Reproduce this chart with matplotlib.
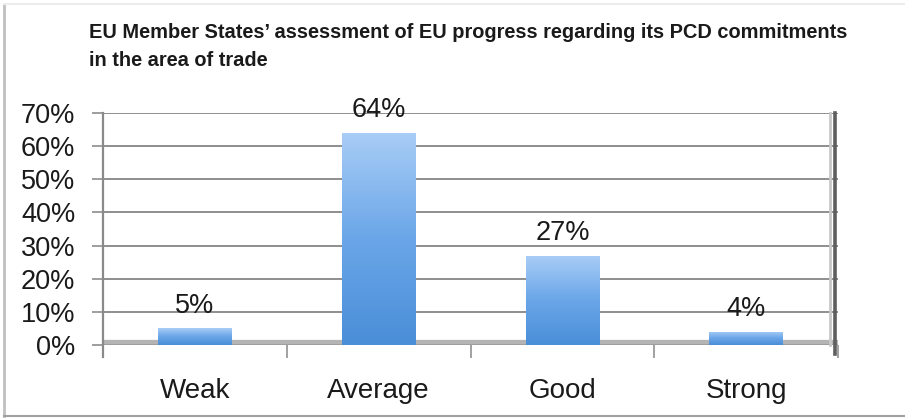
import numpy as np
import matplotlib
matplotlib.use("Agg")
import matplotlib.pyplot as plt
from matplotlib.lines import Line2D
from matplotlib.colors import LinearSegmentedColormap

categories = ["Weak", "Average", "Good", "Strong"]
values = [5, 64, 27, 4]
value_labels = ["5%", "64%", "27%", "4%"]
yticks = [0, 10, 20, 30, 40, 50, 60, 70]
ytick_labels = ["0%", "10%", "20%", "30%", "40%", "50%", "60%", "70%"]
title_lines = ["EU Member States\u2019 assessment of EU progress regarding its PCD commitments",
               "in the area of trade"]

W, H = 905, 418
fig = plt.figure(figsize=(W / 100, H / 100), dpi=100)
fig.patch.set_facecolor("white")

# plot area in pixels: x 103..838, y(0%)=345, y(70%)=113
x0, x1 = 103, 838
yb, yt = 345, 113
ax = fig.add_axes([x0 / W, (H - yb) / H, (x1 - x0) / W, (yb - yt) / H])
for s in ax.spines.values():
    s.set_visible(False)

# gridlines
for v in yticks[1:]:
    ax.axhline(v, color="#8e8e8e", lw=1.4, zorder=1)

# floor band
ax.axhline(0.6, color="#b4b4b4", lw=4.5, zorder=1.5, solid_capstyle="butt")
ax.axhline(0, color="#9a9a9a", lw=1.2, zorder=1.6)

# left axis line and right wall
ax.add_line(Line2D([0, 0], [1, -0.05], transform=ax.transAxes, color="#8a8a8a", lw=1.6, clip_on=False, zorder=3))
ax.add_line(Line2D([0.996, 0.996], [1, -0.04], transform=ax.transAxes, color="#5e5e5e", lw=2.6, clip_on=False, zorder=3))
ax.add_line(Line2D([0.989, 0.989], [1, 0.0], transform=ax.transAxes, color="#c8c8c8", lw=2.0, clip_on=False, zorder=2.9))

# bars with vertical gradient
cmap = LinearSegmentedColormap.from_list("barg", ["#4a8ed8", "#6aa6e8", "#a9cdf6"])
bars = ax.bar(range(len(categories)), values, width=0.40, color="none", edgecolor="none", zorder=2)
grad = np.linspace(0, 1, 256).reshape(-1, 1)
for b in bars:
    bx, by = b.get_x(), b.get_y()
    bw, bh = b.get_width(), b.get_height()
    im = ax.imshow(grad, cmap=cmap, origin="lower", aspect="auto",
                   extent=[bx, bx + bw, by, by + bh], zorder=2)
    im.set_clip_path(b)
ax.set_xlim(-0.5, len(categories) - 0.5)
ax.set_ylim(0, 70)

# value labels
for i, (v, lab) in enumerate(zip(values, value_labels)):
    ax.annotate(lab, (i, v), xytext=(0, 7), textcoords="offset points",
                ha="center", va="bottom", fontsize=19.5, color="#1a1a1a",
                family="Liberation Sans", zorder=4)

# ticks
ax.set_yticks(yticks)
ax.set_yticklabels(ytick_labels, family="Liberation Sans", fontsize=19.5, color="#1a1a1a")
ax.tick_params(axis="y", length=8, width=1.2, color="#8e8e8e", pad=12)
ax.set_xticks(range(len(categories)))
ax.set_xticklabels(categories, family="Liberation Sans", fontsize=20, color="#1a1a1a")
ax.tick_params(axis="x", which="major", length=0, pad=24)
ax.set_xticks(np.arange(-0.5, len(categories)), minor=True)
ax.tick_params(axis="x", which="minor", length=9, width=1.3, color="#9a9a9a", direction="out")

# title (two lines), fitted to the reference width
t1 = fig.text(89 / W, 1 - 33 / H, title_lines[0], ha="left", va="center", fontsize=14,
              fontweight="bold", family="Liberation Sans", color="#1a1a1a")
t2 = fig.text(89 / W, 1 - 60 / H, title_lines[1], ha="left", va="center", fontsize=14,
              fontweight="bold", family="Liberation Sans", color="#1a1a1a")
r = fig.canvas.get_renderer()
w = t1.get_window_extent(r).width
fs = 14 * 762 / w
t1.set_fontsize(fs)
t2.set_fontsize(fs)

# outer frame
fig.add_artist(Line2D([4 / W, 4 / W], [2 / H, 1 - 4 / H], transform=fig.transFigure, color="#c0c0c0", lw=2))
fig.add_artist(Line2D([4 / W, 1], [2.5 / H, 2.5 / H], transform=fig.transFigure, color="#a0a0a0", lw=1.5))
fig.add_artist(Line2D([4 / W, 1], [1 - 4 / H, 1 - 4 / H], transform=fig.transFigure, color="#ececec", lw=1.5))

fig.savefig("out.png", dpi=100, facecolor="white")
